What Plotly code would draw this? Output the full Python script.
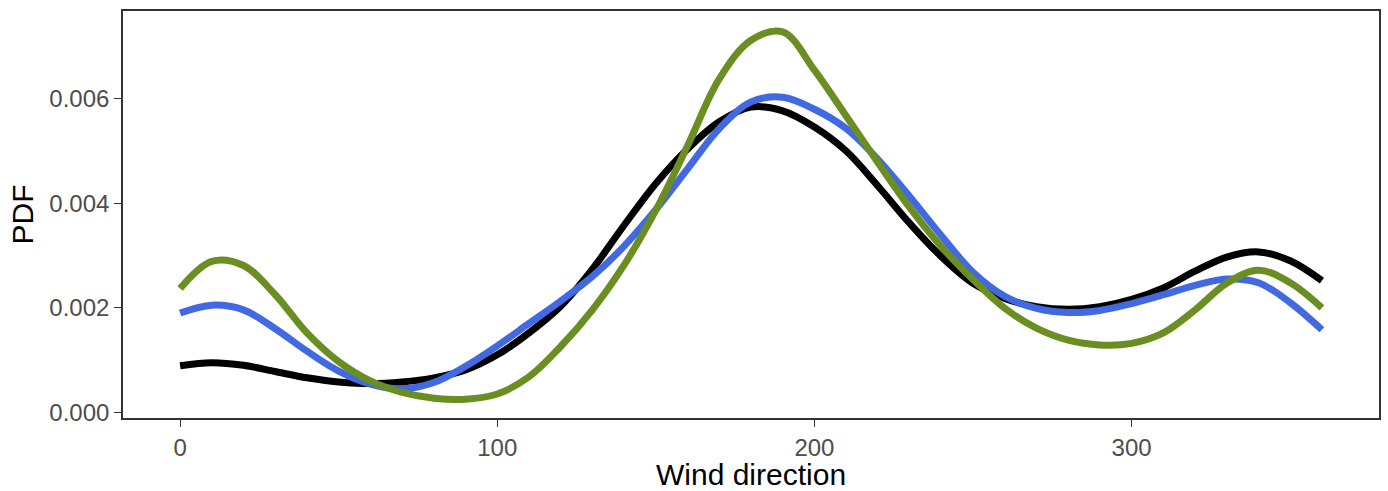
import plotly.graph_objects as go

# wind direction grid (degrees)
DIRECTION = list(range(0, 361, 10))

PDF_BLACK = [
    0.00089, 0.00095, 0.00090, 0.00078, 0.00066, 0.00058, 0.00055, 0.00058,
    0.00066, 0.00081, 0.00110, 0.00152, 0.00203, 0.00274, 0.00358, 0.00438,
    0.00504, 0.00556, 0.00584, 0.00577, 0.00546, 0.00500, 0.00433, 0.00362,
    0.00298, 0.00247, 0.00218, 0.00202, 0.00197, 0.00202, 0.00216, 0.00238,
    0.00270, 0.00297, 0.00307, 0.00290, 0.00252,
]
PDF_BLUE = [
    0.00190, 0.00205, 0.00196, 0.00160, 0.00117, 0.00079, 0.00054, 0.00045,
    0.00057, 0.00088, 0.00127, 0.00170, 0.00213, 0.00260, 0.00318, 0.00388,
    0.00466, 0.00543, 0.00594, 0.00603, 0.00580, 0.00543, 0.00484, 0.00413,
    0.00338, 0.00268, 0.00222, 0.00199, 0.00191, 0.00195, 0.00208, 0.00225,
    0.00243, 0.00255, 0.00248, 0.00210, 0.00158,
]
PDF_GREEN = [
    0.00237, 0.00289, 0.00281, 0.00225, 0.00152, 0.00097, 0.00060, 0.00038,
    0.00027, 0.00025, 0.00035, 0.00068, 0.00126, 0.00196, 0.00282, 0.00387,
    0.00510, 0.00638, 0.00712, 0.00728, 0.00655, 0.00567, 0.00478, 0.00392,
    0.00317, 0.00254, 0.00199, 0.00161, 0.00138, 0.00129, 0.00132, 0.00152,
    0.00196, 0.00247, 0.00272, 0.00248, 0.00200,
]

X_TICKS = [0, 100, 200, 300]
Y_TICKS = [0.000, 0.002, 0.004, 0.006]

LINE_COLOR = "#333333"
FONT = "Liberation Sans, Arial, sans-serif"

fig = go.Figure()
for ys, color in [(PDF_BLACK, "black"), (PDF_BLUE, "royalblue"), (PDF_GREEN, "olivedrab")]:
    fig.add_trace(
        go.Scatter(
            x=DIRECTION,
            y=ys,
            mode="lines",
            line=dict(color=color, width=7, shape="spline", smoothing=1),
            showlegend=False,
            hoverinfo="skip",
        )
    )

fig.update_layout(
    width=1388,
    height=491,
    margin=dict(l=123, r=7, t=11, b=73),
    paper_bgcolor="white",
    plot_bgcolor="white",
    font=dict(family=FONT, color="#4d4d4d", size=24),
)
axis_style = dict(
    ticks="outside",
    ticklen=7,
    tickwidth=1.4,
    tickcolor=LINE_COLOR,
    showline=True,
    linecolor=LINE_COLOR,
    linewidth=1.6,
    mirror=True,
    showgrid=False,
    zeroline=False,
)
fig.update_xaxes(range=[-18, 378], tickvals=X_TICKS, **axis_style)
fig.update_yaxes(range=[-0.000109, 0.00768], tickvals=Y_TICKS, tickformat=".3f", **axis_style)

# axis titles placed as annotations for tight control
fig.add_annotation(
    text="Wind direction", xref="paper", yref="paper", x=0.5, y=0,
    yshift=-56, yanchor="middle", showarrow=False,
    font=dict(family=FONT, size=30, color="black"),
)
fig.add_annotation(
    text="PDF", xref="paper", yref="paper", x=0, y=0.5,
    xshift=-101, xanchor="center", textangle=-90, showarrow=False,
    font=dict(family=FONT, size=30, color="black"),
)

# drop the default body margin so the figure sits at the window's corner
fig.write_html(
    "out.html",
    config={"displayModeBar": False},
    post_script="document.body.style.margin='0';",
)
